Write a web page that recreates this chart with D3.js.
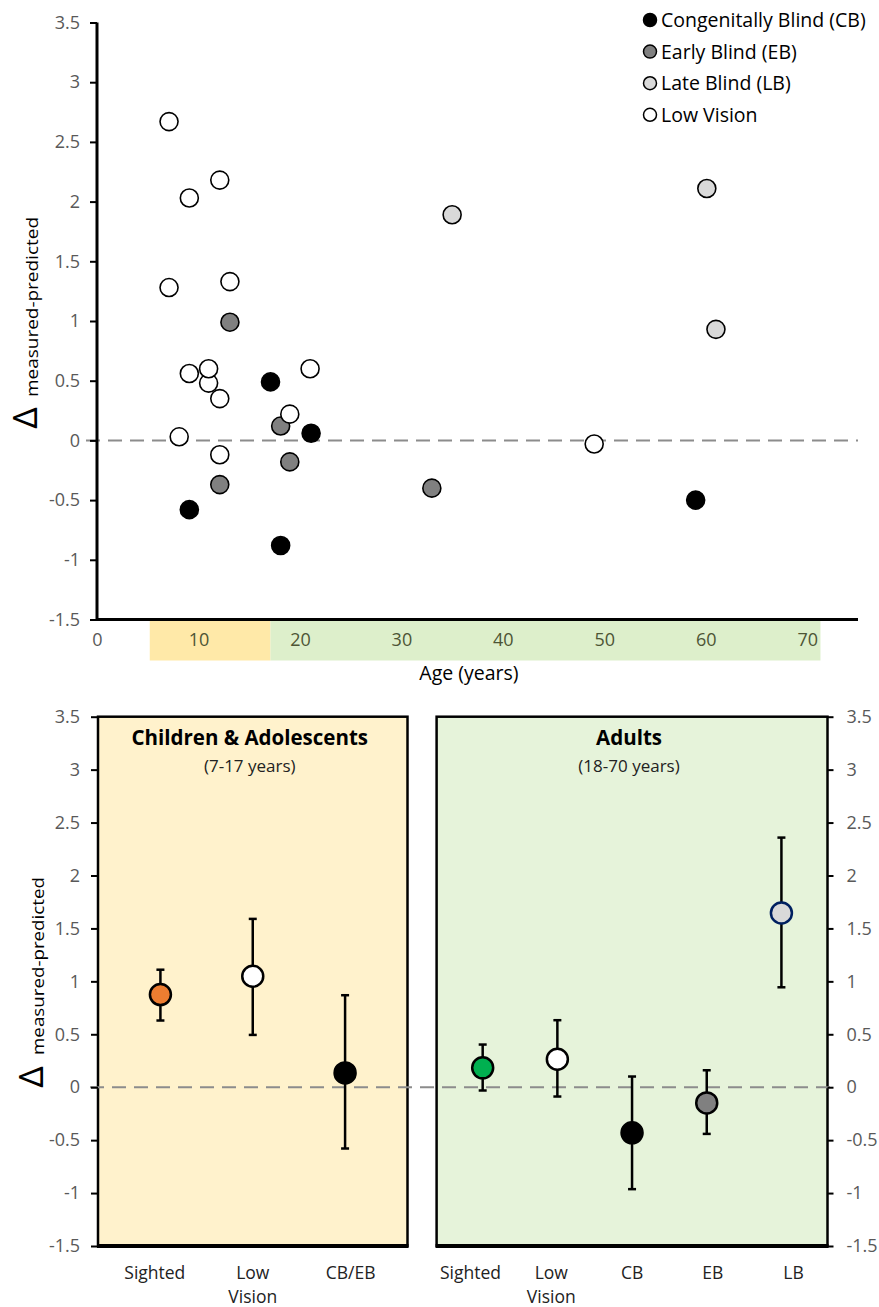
<!DOCTYPE html>
<html>
<head>
<meta charset="utf-8">
<script src="https://cdn.jsdelivr.net/npm/d3@7"></script>
<style>
  body { margin: 0; background: #fff; }
  text { font-family: "Open Sans", Lato, sans-serif; }
</style>
</head>
<body>
<svg id="chart" width="879" height="1307"></svg>
<script>
// ---- top panel: individual participants ----
var legendNames = ["Congenitally Blind (CB)", "Early Blind (EB)", "Late Blind (LB)", "Low Vision"];

var cbAge   = [9.1, 17.1, 18.1, 21.1, 59.0];
var cbDelta = [-0.58, 0.49, -0.88, 0.06, -0.50];
var ebAge   = [12.1, 13.1, 18.1, 19.0, 33.0];
var ebDelta = [-0.37, 0.99, 0.12, -0.18, -0.40];
var lbAge   = [35.0, 60.1, 61.0];
var lbDelta = [1.89, 2.11, 0.93];
var lvAge   = [7.1, 9.1, 12.1, 7.1, 13.1, 9.1, 11.0, 11.0, 12.1, 8.1, 12.1, 19.0, 21.0, 49.0];
var lvDelta = [2.67, 2.03, 2.18, 1.28, 1.33, 0.56, 0.48, 0.60, 0.35, 0.03, -0.12, 0.22, 0.60, -0.03];

var ageTicks = [0, 10, 20, 30, 40, 50, 60, 70];
var deltaTicks = [-1.5, -1, -0.5, 0, 0.5, 1, 1.5, 2, 2.5, 3, 3.5];
// age bands shown under the axis
var bandStart = [5.2, 17.1];
var bandEnd   = [17.1, 71.3];

// ---- bottom panels: group means with error bars ----
var childGroups = ["Sighted", "Low Vision", "CB/EB"];
var childMean   = [0.875, 1.048, 0.135];
var childLow    = [0.63, 0.494, -0.579];
var childHigh   = [1.11, 1.59, 0.869];

var adultGroups = ["Sighted", "Low Vision", "CB", "EB", "LB"];
var adultMean   = [0.183, 0.264, -0.431, -0.148, 1.646];
var adultLow    = [-0.031, -0.088, -0.963, -0.441, 0.944];
var adultHigh   = [0.403, 0.633, 0.101, 0.16, 2.358];

// styles
var seriesFill = ["#000000", "#808080", "#d9d9d9", "#ffffff"];
var childFill = ["#ed7d31", "#ffffff", "#000000"];
var adultFill = ["#00b050", "#ffffff", "#000000", "#808080", "#d9d9d9"];
var adultStroke = ["#000", "#000", "#000", "#000", "#002060"];
var tickColor = "#595959";
var tickFont = "18px";

var svg = d3.select("#chart");
var fmt = function(d) { return String(+d.toFixed(1)); };

// ================= TOP CHART =================
var xAge = d3.scaleLinear().domain([0, 75]).range([97, 858]);
var yTop = d3.scaleLinear().domain([-1.5, 3.5]).range([619.5, 22.5]);

var gTop = svg.append("g");

// bands
gTop.selectAll("rect.band")
  .data(d3.range(bandStart.length))
  .enter().append("rect")
    .attr("class", "band")
    .attr("x", function(i) { return xAge(bandStart[i]); })
    .attr("width", function(i) { return xAge(bandEnd[i]) - xAge(bandStart[i]); })
    .attr("y", yTop(-1.5) + 1)
    .attr("height", 40)
    .attr("fill", function(i) { return i == 0 ? "#ffe9a8" : "#ddefcb"; });

// zero line
gTop.append("line")
  .attr("x1", 86).attr("x2", xAge(75))
  .attr("y1", yTop(0)).attr("y2", yTop(0))
  .attr("stroke", "#8c8c8c").attr("stroke-width", 2)
  .attr("stroke-dasharray", "14,8");

// y axis
var yAxisTop = gTop.append("g")
  .attr("transform", "translate(" + xAge(0) + ",0)")
  .call(d3.axisLeft(yTop).tickValues(deltaTicks).tickSize(7).tickPadding(10).tickFormat(fmt));
yAxisTop.select(".domain").remove();
yAxisTop.selectAll(".tick line").attr("stroke", "#000").attr("stroke-width", 2);
yAxisTop.selectAll(".tick text")
  .attr("fill", tickColor).style("font-size", tickFont).style("font-family", "'Open Sans', sans-serif");

// x axis labels
var xAxisTop = gTop.append("g")
  .attr("transform", "translate(0," + yTop(-1.5) + ")")
  .call(d3.axisBottom(xAge).tickValues(ageTicks).tickSize(0).tickPadding(14));
xAxisTop.select(".domain").remove();
xAxisTop.selectAll(".tick text")
  .attr("fill", function(d) { return d == 0 ? tickColor : "#4d5535"; })
  .style("font-size", tickFont).style("font-family", "'Open Sans', sans-serif");

// axis lines
gTop.append("line")
  .attr("x1", xAge(0)).attr("x2", xAge(0))
  .attr("y1", yTop(3.5)).attr("y2", yTop(-1.5) + 1.5)
  .attr("stroke", "#000").attr("stroke-width", 3);
gTop.append("line")
  .attr("x1", xAge(0)).attr("x2", xAge(75))
  .attr("y1", yTop(-1.5)).attr("y2", yTop(-1.5))
  .attr("stroke", "#000").attr("stroke-width", 3);

// points
var seriesAge = [cbAge, ebAge, lbAge, lvAge];
var seriesDelta = [cbDelta, ebDelta, lbDelta, lvDelta];
seriesAge.forEach(function(ages, s) {
  gTop.append("g").selectAll("circle")
    .data(ages)
    .enter().append("circle")
      .attr("cx", function(d) { return xAge(d); })
      .attr("cy", function(d, i) { return yTop(seriesDelta[s][i]); })
      .attr("r", 9)
      .attr("fill", seriesFill[s])
      .attr("stroke", "#000")
      .attr("stroke-width", 1.6);
});

// legend
var legend = gTop.append("g");
legendNames.forEach(function(name, i) {
  var ly = 20 + i * 31.6;
  legend.append("circle")
    .attr("cx", 650).attr("cy", ly).attr("r", 6.5)
    .attr("fill", seriesFill[i]).attr("stroke", "#000").attr("stroke-width", 1.5);
  legend.append("text")
    .attr("x", 661).attr("y", ly + 7)
    .style("font-size", "19.5px").attr("fill", "#000")
    .text(name);
});

// axis titles
gTop.append("text")
  .attr("x", 469).attr("y", 680)
  .attr("text-anchor", "middle")
  .style("font-size", "19.5px")
  .text("Age (years)");

function yLabel(g, bx, cy, start, len) {
  g.append("text")
    .attr("transform", "translate(" + bx + "," + cy + ") rotate(-90)")
    .attr("text-anchor", "middle")
    .style("font-family", "'Noto Sans', sans-serif")
    .style("font-size", "33px")
    .text("\u0394");
  g.append("text")
    .attr("transform", "translate(" + (bx + 1) + "," + start + ") rotate(-90)")
    .attr("textLength", len)
    .attr("lengthAdjust", "spacingAndGlyphs")
    .style("font-size", "16px")
    .text("measured-predicted");
}
yLabel(gTop, 37, 418, 397, 180);

// ================= BOTTOM CHART =================
var yBot = d3.scaleLinear().domain([-1.5, 3.5]).range([1246, 716.7]);
var gBot = svg.append("g");

var panels = [
  { x0: 98, x1: 407.5, fill: "#fff2cc", title: "Children & Adolescents", sub: "(7-17 years)",
    groups: childGroups, mean: childMean, low: childLow, high: childHigh,
    fills: childFill, strokes: ["#000", "#000", "#000"], ptPad: 0.676, lblPad: 0.58 },
  { x0: 436.6, x1: 827.5, fill: "#e6f3da", title: "Adults", sub: "(18-70 years)",
    groups: adultGroups, mean: adultMean, low: adultLow, high: adultHigh,
    fills: adultFill, strokes: adultStroke, ptPad: 0.617, lblPad: 0.42 }
];

// panel backgrounds
panels.forEach(function(p) {
  gBot.append("rect")
    .attr("x", p.x0).attr("y", yBot(3.5))
    .attr("width", p.x1 - p.x0).attr("height", yBot(-1.5) - yBot(3.5))
    .attr("fill", p.fill).attr("stroke", "#000").attr("stroke-width", 2.5);
  gBot.append("line")
    .attr("x1", p.x0 - 1).attr("x2", p.x1 + 1)
    .attr("y1", yBot(-1.5)).attr("y2", yBot(-1.5))
    .attr("stroke", "#000").attr("stroke-width", 4);
});

// zero line
gBot.append("line")
  .attr("x1", 90).attr("x2", 833)
  .attr("y1", yBot(0)).attr("y2", yBot(0))
  .attr("stroke", "#8c8c8c").attr("stroke-width", 2)
  .attr("stroke-dasharray", "14,8");

// left and right axes
var yAxisL = gBot.append("g")
  .attr("transform", "translate(98,0)")
  .call(d3.axisLeft(yBot).tickValues(deltaTicks).tickSize(7).tickPadding(11).tickFormat(fmt));
var yAxisR = gBot.append("g")
  .attr("transform", "translate(827.5,0)")
  .call(d3.axisRight(yBot).tickValues(deltaTicks).tickSize(6).tickPadding(13).tickFormat(fmt));
[yAxisL, yAxisR].forEach(function(a) {
  a.select(".domain").remove();
  a.selectAll(".tick line").attr("stroke", "#000").attr("stroke-width", 2);
  a.selectAll(".tick text")
    .attr("fill", tickColor).style("font-size", tickFont).style("font-family", "'Open Sans', sans-serif");
});

panels.forEach(function(p) {
  var cx = (p.x0 + p.x1) / 2;
  gBot.append("text")
    .attr("x", cx - 3).attr("y", 745)
    .attr("text-anchor", "middle")
    .style("font-size", "20.5px").style("font-weight", "bold")
    .text(p.title);
  gBot.append("text")
    .attr("x", cx - 3).attr("y", 772)
    .attr("text-anchor", "middle")
    .style("font-size", "17px").attr("fill", "#222")
    .text(p.sub);

  var xPt = d3.scalePoint().domain(p.groups).range([p.x0, p.x1]).padding(p.ptPad);
  var xLbl = d3.scalePoint().domain(p.groups).range([p.x0, p.x1]).padding(p.lblPad);

  // category labels (two-line for "Low Vision")
  p.groups.forEach(function(gname) {
    var t = gBot.append("text")
      .attr("x", xLbl(gname)).attr("y", 1279)
      .attr("text-anchor", "middle")
      .style("font-size", "17.5px").attr("fill", "#222");
    gname.split(" ").forEach(function(w, k) {
      t.append("tspan").attr("x", xLbl(gname)).attr("dy", k == 0 ? 0 : 24).text(w);
    });
  });

  var g = gBot.append("g");
  var idx = d3.range(p.groups.length);
  // error bars
  g.selectAll("line.err")
    .data(idx).enter().append("line")
      .attr("x1", function(i) { return xPt(p.groups[i]); })
      .attr("x2", function(i) { return xPt(p.groups[i]); })
      .attr("y1", function(i) { return yBot(p.low[i]); })
      .attr("y2", function(i) { return yBot(p.high[i]); })
      .attr("stroke", "#000").attr("stroke-width", 2.5);
  ["low", "high"].forEach(function(k) {
    g.selectAll("line.cap-" + k)
      .data(idx).enter().append("line")
        .attr("x1", function(i) { return xPt(p.groups[i]) - 4; })
        .attr("x2", function(i) { return xPt(p.groups[i]) + 4; })
        .attr("y1", function(i) { return yBot(p[k][i]); })
        .attr("y2", function(i) { return yBot(p[k][i]); })
        .attr("stroke", "#000").attr("stroke-width", 2.5);
  });
  // means
  g.selectAll("circle")
    .data(idx).enter().append("circle")
      .attr("cx", function(i) { return xPt(p.groups[i]); })
      .attr("cy", function(i) { return yBot(p.mean[i]); })
      .attr("r", 10.5)
      .attr("fill", function(i) { return p.fills[i]; })
      .attr("stroke", function(i) { return p.strokes[i]; })
      .attr("stroke-width", 2.5);
});

yLabel(gBot, 43, 1077, 1055, 178);
</script>
</body>
</html>
